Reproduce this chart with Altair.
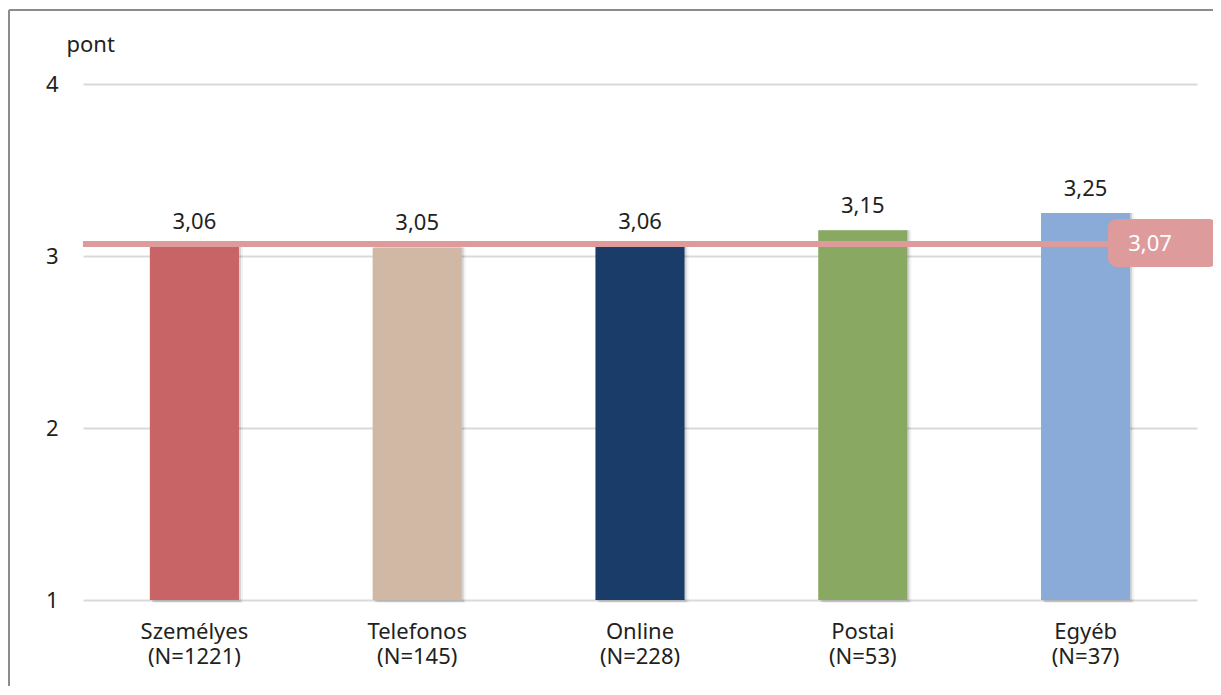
import altair as alt
import pandas as pd

categories = ["Személyes", "Telefonos", "Online", "Postai", "Egyéb"]
sample_sizes = ["(N=1221)", "(N=145)", "(N=228)", "(N=53)", "(N=37)"]
values = [3.06, 3.05, 3.06, 3.15, 3.25]
colors = ["#c86466", "#d1b8a5", "#1a3c68", "#89a862", "#8aabd8"]
average = 3.07
y_ticks = [1, 2, 3, 4]

FONT = "Noto Sans"
TXT = "#231f20"
FS = 22

df = pd.DataFrame({
    "cat": [f"{c}|{n}" for c, n in zip(categories, sample_sizes)],
    "value": values,
    "color": colors,
})
order = list(df["cat"])

W, H = 1114, 516

x = alt.X("cat:N", sort=order, title=None,
          scale=alt.Scale(paddingInner=0.6, paddingOuter=0.3),
          axis=alt.Axis(labelExpr="split(datum.label, '|')", labelAngle=0,
                        labelFont=FONT, labelFontSize=FS, labelColor=TXT,
                        labelPadding=21, labelLineHeight=25, ticks=False,
                        domain=False, grid=False, labelBaseline="top"))
y = alt.Y("value:Q", title="pont",
          scale=alt.Scale(domain=[1, 4], zero=False, nice=False),
          axis=alt.Axis(values=y_ticks, format="d", labelFont=FONT,
                        labelFontSize=FS, labelColor=TXT, labelPadding=25,
                        ticks=False, domain=False, gridColor="#d9d9d9",
                        gridWidth=2, titleAngle=0, titleAlign="left",
                        titleBaseline="alphabetic", titleX=-17, titleY=-33,
                        titleFont=FONT, titleFontSize=FS,
                        titleFontWeight="normal", titleColor=TXT))

base = alt.Chart(df)

shadow1 = base.mark_bar(color="#000000", opacity=0.05, xOffset=4, x2Offset=4,
                        y2Offset=3).encode(x=x, y=y, y2=alt.datum(1))
shadow2 = base.mark_bar(color="#000000", opacity=0.12, xOffset=2, x2Offset=2,
                        y2Offset=2).encode(x=x, y=y, y2=alt.datum(1))

bars = base.mark_bar().encode(
    x=x, y=y, y2=alt.datum(1),
    color=alt.Color("color:N", scale=None, legend=None),
)

labels = base.transform_calculate(
    lbl="replace(format(datum.value, '.2f'), '.', ',')"
).mark_text(font=FONT, fontSize=FS, color=TXT, baseline="alphabetic",
            dy=-17).encode(
    x=alt.X("cat:N", sort=order), y="value:Q", text="lbl:N"
)

avg_df = pd.DataFrame({"avg": [average]})
avg_base = alt.Chart(avg_df).transform_calculate(
    lbl="replace(format(datum.avg, '.2f'), '.', ',')"
)

avg_line = avg_base.mark_rule(color="#dd9b9c", strokeWidth=6).encode(
    y="avg:Q", x=alt.value(0), x2=alt.value(1030)
)
avg_box = avg_base.mark_rect(color="#dd9b9c", cornerRadius=9,
                             yOffset=-25, y2Offset=23).encode(
    y="avg:Q", y2="avg:Q", x=alt.value(1025), x2=alt.value(1135)
)
avg_text = avg_base.mark_text(font=FONT, fontSize=FS, color="white").encode(
    y="avg:Q", x=alt.value(1067), text="lbl:N"
)

frame_left = alt.Chart(avg_df).mark_rule(color="#8c8c8c", strokeWidth=2).encode(
    x=alt.value(-74), y=alt.value(-74), y2=alt.value(H + 120)
)
frame_top = alt.Chart(avg_df).mark_rule(color="#8c8c8c", strokeWidth=2).encode(
    x=alt.value(-74), x2=alt.value(W + 40), y=alt.value(-74)
)

chart = alt.layer(
    shadow1, shadow2, bars, labels, avg_line, avg_box, avg_text,
    frame_left, frame_top
).properties(
    width=W, height=H,
    background="white",
    autosize=alt.AutoSizeParams(type="none"),
    padding={"left": 75, "top": 76, "right": 16, "bottom": 86},
).configure_view(strokeWidth=0, stroke="transparent")

chart.save("out.html", embed_options={"renderer": "svg", "actions": False})
